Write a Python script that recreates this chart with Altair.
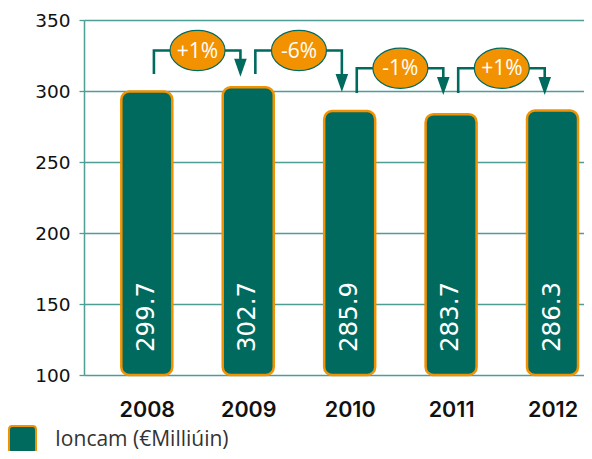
import altair as alt
import pandas as pd

# ---- data ----
years = [2008, 2009, 2010, 2011, 2012]
values = [299.7, 302.7, 285.9, 283.7, 286.3]
series_name = "Ioncam (€Milliúin)"

change_from = [2008, 2009, 2010, 2011]
change_to = [2009, 2010, 2011, 2012]
change_labels = ["+1%", "-6%", "-1%", "+1%"]
callout_level = [328.5, 328.5, 316.0, 316.0]
callout_start = [312.0, 312.0, 298.6, 298.6]
callout_tip = [310.1, 299.3, 297.2, 297.2]

y_ticks = [100, 150, 200, 250, 300, 350]

# ---- styles ----
TEAL = "#006A5F"
ORANGE = "#F39200"
GRID = "#4E9E96"
X_DOMAIN = [2007.43, 2012.261]
INSET_L = 0.07
INSET_R = 0.077
ARROW_BASE = 8.0

bars_df = pd.DataFrame({"year": years, "value": values, "series": [series_name] * len(years)})

rows = []
for i in range(len(change_from)):
    xl = change_from[i] + INSET_L
    xr = change_to[i] - INSET_R
    pts = [(xl, callout_start[i]), (xl, callout_level[i]), (xr, callout_level[i]), (xr, callout_tip[i] + ARROW_BASE)]
    for k, (px, py) in enumerate(pts):
        rows.append({"cid": i, "ord": k, "x": px, "y": py})
path_df = pd.DataFrame(rows)

callout_df = pd.DataFrame({
    "mid": [(a + b) / 2 for a, b in zip(change_from, change_to)],
    "level": callout_level,
    "label": change_labels,
    "arrow_x": [b - INSET_R for b in change_to],
    "tip": callout_tip,
})

xscale = alt.Scale(domain=X_DOMAIN, nice=False, zero=False)
yscale = alt.Scale(domain=[100, 350], nice=False, zero=False)

base = alt.Chart(bars_df)

bars = base.mark_bar(size=51, cornerRadius=8, stroke=ORANGE, strokeWidth=2.5).encode(
    x=alt.X("year:Q", scale=xscale, title=None,
            axis=alt.Axis(values=years, format="d", grid=False, domain=False, ticks=False,
                          labelFont="Inter", labelFontWeight=600, labelFontSize=21.5,
                          labelColor="#111111", labelPadding=24)),
    y=alt.Y("value:Q", scale=yscale, title=None,
            axis=alt.Axis(values=y_ticks, grid=True, gridColor=GRID, gridWidth=1.3,
                          domain=True, domainColor=GRID, domainWidth=1.5,
                          ticks=True, tickColor=GRID, tickSize=5, tickWidth=1.3,
                          labelFont="DejaVu Sans", labelFontSize=18.5, labelColor="#111111",
                          labelPadding=9)),
    y2=alt.datum(100),
    color=alt.Color("series:N", scale=alt.Scale(range=[TEAL]), title=None,
                    legend=alt.Legend(orient="none", legendX=-76, legendY=405,
                                      symbolType="M -1 -0.75 Q -1 -1 -0.75 -1 L 0.75 -1 Q 1 -1 1 -0.75 L 1 0.75 Q 1 1 0.75 1 L -0.75 1 Q -1 1 -1 0.75 Z",
                                      symbolSize=729, symbolStrokeColor=ORANGE, symbolStrokeWidth=2,
                                      symbolFillColor=TEAL, symbolOpacity=1,
                                      labelFont="Open Sans", labelFontSize=21, labelColor="#333333",
                                      labelOffset=18, labelLimit=400, padding=0)),
)

value_text = base.mark_text(angle=270, align="left", baseline="middle", dx=23,
                            font="DejaVu Sans", fontSize=24.5, color="white").encode(
    x=alt.X("year:Q", scale=xscale),
    y=alt.Y("base:Q", scale=yscale),
    text=alt.Text("value:Q", format=".1f"),
).transform_calculate(base="100")

connectors = alt.Chart(path_df).mark_line(color=TEAL, strokeWidth=2.6, strokeJoin="miter").encode(
    x=alt.X("x:Q", scale=xscale),
    y=alt.Y("y:Q", scale=yscale),
    detail="cid:N",
    order="ord:Q",
)

arrows = alt.Chart(callout_df).mark_point(
    shape="M -0.7 -2 L 0.7 -2 L 0 0 Z", size=324, filled=True, fill=TEAL, opacity=1, strokeWidth=0
).encode(
    x=alt.X("arrow_x:Q", scale=xscale),
    y=alt.Y("tip:Q", scale=yscale),
)

ellipses = alt.Chart(callout_df).mark_point(
    shape="M -1 0 A 1 0.73 0 1 0 1 0 A 1 0.73 0 1 0 -1 0 Z", size=3025, filled=True,
    fill=ORANGE, stroke=TEAL, strokeWidth=1.2, opacity=1
).encode(
    x=alt.X("mid:Q", scale=xscale),
    y=alt.Y("level:Q", scale=yscale),
)

ellipse_text = alt.Chart(callout_df).mark_text(
    font="Open Sans", fontSize=21, color="white", align="center", baseline="middle", dy=1
).encode(
    x=alt.X("mid:Q", scale=xscale),
    y=alt.Y("level:Q", scale=yscale),
    text="label:N",
)

chart = alt.layer(bars, value_text, connectors, arrows, ellipses, ellipse_text).properties(
    width=500, height=355,
    autosize=alt.AutoSizeParams(type="none"),
    padding={"left": 76, "top": 12, "right": 0, "bottom": 76},
).configure_view(stroke=None).configure(background="white")

chart.save("out.html", embed_options={"renderer": "svg", "actions": False})
